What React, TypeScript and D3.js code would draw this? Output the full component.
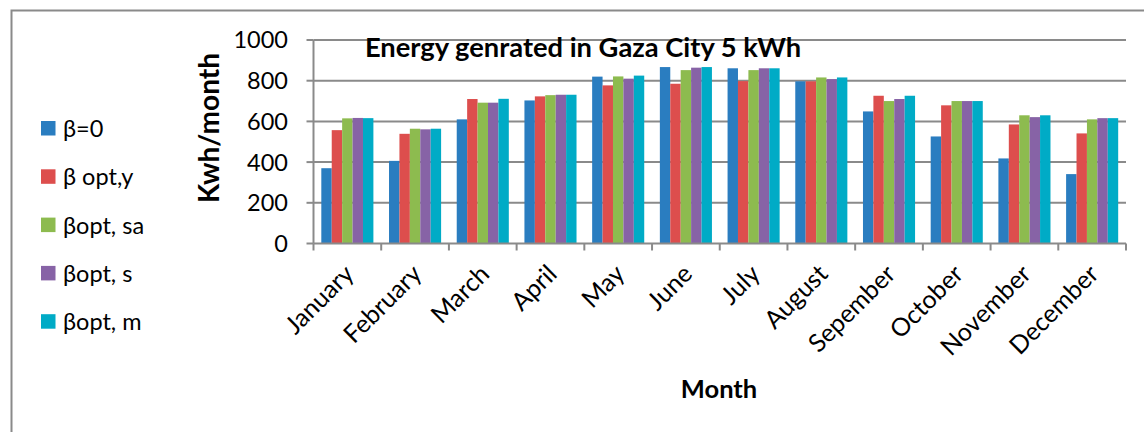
import React from "react";
import * as d3 from "d3";

const months = ["January","February","March","April","May","June","July","August","Sepember","October","November","December"];
const seriesNames = ["β=0","β opt,y","βopt, sa","βopt, s","βopt, m"];
const colors = ["#2A7DC0","#DD4E4D","#8DBB4F","#8763A6","#00ABC6"];
const beta0 = [370,406,610,703,820,867,861,797,649,526,418,341];
const betaOptY = [557,539,710,723,777,785,798,797,726,679,585,541];
const betaOptSa = [615,564,692,729,821,852,852,816,700,700,630,610];
const betaOptS = [617,561,692,731,810,864,861,808,710,700,621,616];
const betaOptM = [616,564,711,731,825,867,861,816,726,700,630,616];
const yTicks = [0,200,400,600,800,1000];

const FONT = "Lato, 'Open Sans', sans-serif";

export default function App() {
  const W = 1144, H = 432;
  const left = 313.5, right = 1126, top = 40, bottom = 243.5;
  const series = [beta0, betaOptY, betaOptSa, betaOptS, betaOptM];
  const x = d3.scaleBand<string>().domain(months).range([left, right]).padding(0);
  const inner = d3.scaleBand<number>().domain(d3.range(series.length)).range([0, x.bandwidth()]).paddingOuter(0.75).paddingInner(0);
  const y = d3.scaleLinear().domain([0, 1000]).range([bottom, top]);
  const grid = "#8a8a8a";

  return (
    <svg width={W} height={H} style={{ position: "absolute", left: 0, top: 0, background: "#fff" }} fontFamily={FONT}>
      <rect x={11.5} y={10.5} width={1300} height={600} fill="none" stroke={grid} strokeWidth={2} />
      {yTicks.map((t) => (
        <g key={t}>
          {t > 0 && <line x1={left} x2={right} y1={y(t)} y2={y(t)} stroke={grid} strokeWidth={2} />}
          <line x1={left - 7} x2={left} y1={y(t)} y2={y(t)} stroke={grid} strokeWidth={2} />
          <text x={288} y={y(t)} dy="0.36em" textAnchor="end" fontSize={23.5} fill="#000">{t}</text>
        </g>
      ))}
      {months.map((m, i) => (
        <g key={m}>
          {series.map((s, j) => (
            <rect key={j} x={(x(m) as number) + (inner(j) as number)} y={y(s[i])} width={inner.bandwidth()} height={bottom - y(s[i])} fill={colors[j]} />
          ))}
        </g>
      ))}
      <line x1={left} x2={left} y1={top} y2={bottom} stroke={grid} strokeWidth={2} />
      <line x1={left} x2={right} y1={bottom} y2={bottom} stroke={grid} strokeWidth={2} />
      {months.concat(["_end"]).map((m, i) => {
        const xx = left + i * x.bandwidth();
        return <line key={m} x1={xx} x2={xx} y1={bottom} y2={bottom + 7} stroke={grid} strokeWidth={2} />;
      })}
      {months.map((m) => {
        const cx = (x(m) as number) + x.bandwidth() / 2 + 8;
        const cy = bottom + 32;
        return (
          <text key={m} x={cx} y={cy} textAnchor="end" fontSize={25} fill="#000" transform={`rotate(-45, ${cx}, ${cy})`}>{m}</text>
        );
      })}
      <text x={583} y={57} textAnchor="middle" fontSize={27.3} fontWeight="bold" fill="#000">Energy genrated in Gaza City 5 kWh</text>
      <text x={719} y={398} textAnchor="middle" fontSize={25.5} fontWeight="bold" fill="#000">Month</text>
      <text transform="translate(219, 128) rotate(-90)" textAnchor="middle" fontSize={28} fontWeight="bold" fill="#000">Kwh/month</text>
      {seriesNames.map((n, j) => {
        const ly = 128 + j * 48.3;
        return (
          <g key={n}>
            <rect x={41} y={ly - 7} width={14.5} height={14.5} fill={colors[j]} />
            <text x={63} y={ly} dy="0.38em" fontSize={23.5} fill="#000">{n}</text>
          </g>
        );
      })}
    </svg>
  );
}
